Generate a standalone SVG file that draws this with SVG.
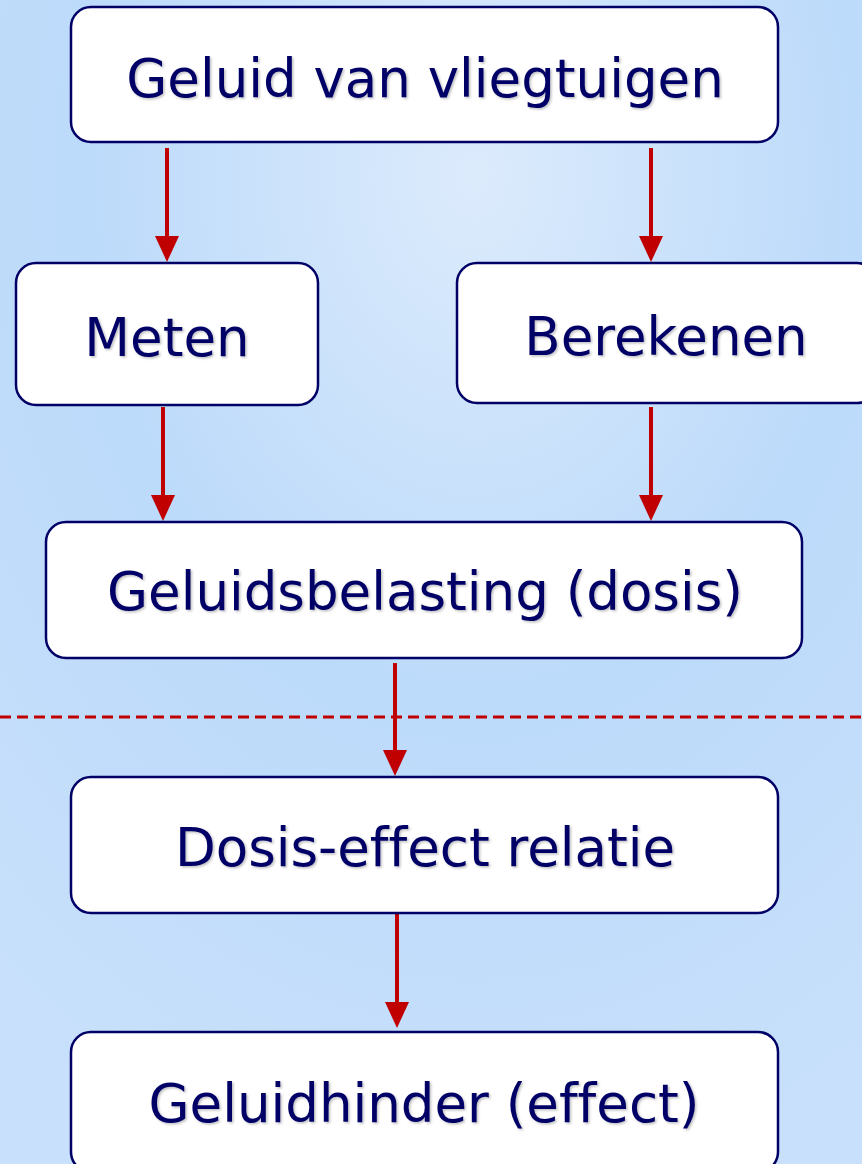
<svg xmlns="http://www.w3.org/2000/svg" width="862" height="1164" viewBox="0 0 862 1164">
<defs>
<radialGradient id="bg" cx="0.55" cy="0.15" r="0.9">
<stop offset="0" stop-color="#dcebfc"/>
<stop offset="0.5" stop-color="#bcdafa"/>
<stop offset="1" stop-color="#c8e0fb"/>
</radialGradient>
<filter id="sh" x="-5%" y="-20%" width="110%" height="140%">
<feDropShadow dx="1.5" dy="1.5" stdDeviation="1" flood-color="#000" flood-opacity="0.25"/>
</filter>
</defs>
<style>
.box{fill:#fff;stroke:#000066;stroke-width:2.5}
.t{font-family:"DejaVu Sans","Verdana",sans-serif;font-size:53px;fill:#000066;text-anchor:middle;filter:url(#sh);font-variant-ligatures:none;font-feature-settings:"liga" 0}
.c{stroke:#c00000;stroke-width:4;fill:none}
.ah{fill:#c00000}
</style>
<rect width="862" height="1164" fill="url(#bg)"/>
<g id="connectors">
<line x1="0" y1="717" x2="862" y2="717" stroke="#c00000" stroke-width="3" stroke-dasharray="11,6"/>
<line class="c" x1="167" y1="148" x2="167" y2="240"/>
<path class="ah" d="M155,236 L179,236 L167,262 z"/>
<line class="c" x1="651" y1="148" x2="651" y2="240"/>
<path class="ah" d="M639,236 L663,236 L651,262 z"/>
<line class="c" x1="163" y1="407" x2="163" y2="499"/>
<path class="ah" d="M151,495 L175,495 L163,521 z"/>
<line class="c" x1="651" y1="407" x2="651" y2="499"/>
<path class="ah" d="M639,495 L663,495 L651,521 z"/>
<line class="c" x1="395" y1="663" x2="395" y2="754"/>
<path class="ah" d="M383,750 L407,750 L395,776 z"/>
<line class="c" x1="397" y1="913" x2="397" y2="1006"/>
<path class="ah" d="M385,1002 L409,1002 L397,1028 z"/>
</g>
<g id="n1"><rect class="box" x="71" y="7" width="707" height="135" rx="20"/><text class="t" x="425" y="97">Geluid van vliegtuigen</text></g>
<g id="n2"><rect class="box" x="16" y="263" width="302" height="142" rx="20"/><text class="t" x="167" y="356">Meten</text></g>
<g id="n3"><rect class="box" x="457" y="263" width="420" height="140" rx="20"/><text class="t" x="666" y="355">Berekenen</text></g>
<g id="n4"><rect class="box" x="46" y="522" width="756" height="136" rx="20"/><text class="t" x="425" y="610">Geluidsbelasting (dosis)</text></g>
<g id="n5"><rect class="box" x="71" y="777" width="707" height="136" rx="20"/><text class="t" x="425" y="866">Dosis-effect relatie</text></g>
<g id="n6"><rect class="box" x="71" y="1032" width="707" height="140" rx="20"/><text class="t" x="424" y="1122">Geluidhinder (effect)</text></g>
</svg>
